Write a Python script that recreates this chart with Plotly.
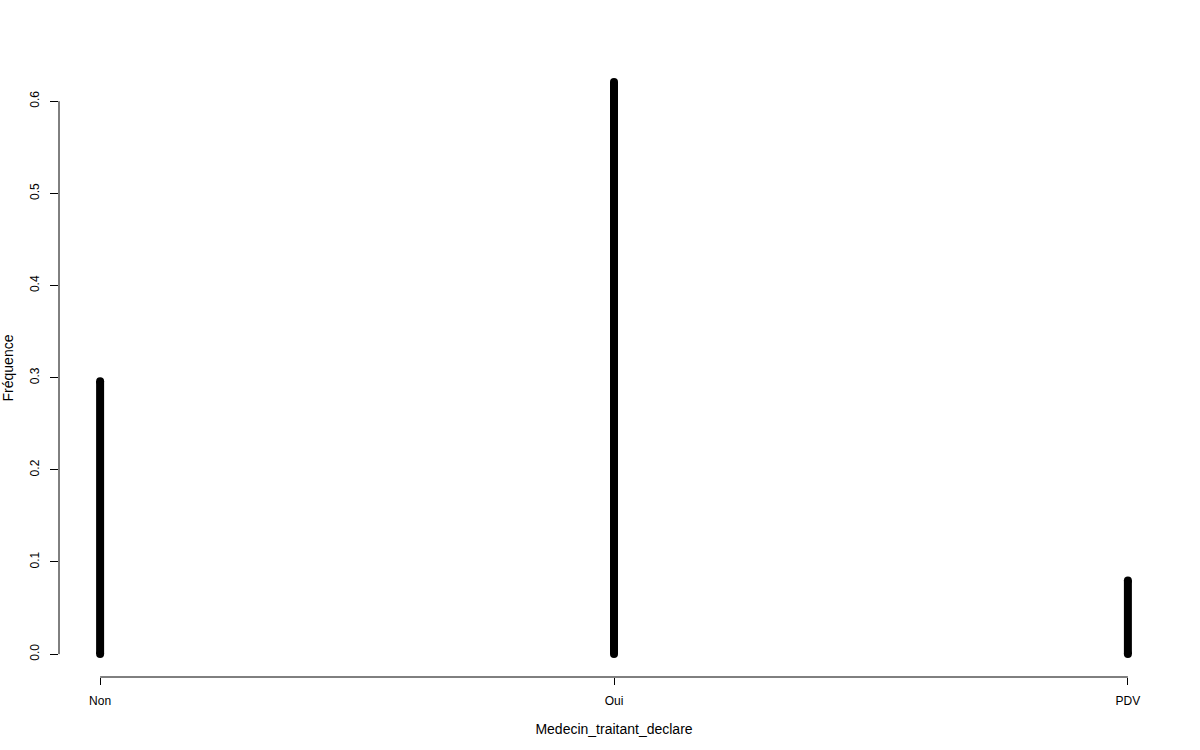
import plotly.graph_objects as go

categories = ["Non", "Oui", "PDV"]
frequencies = [0.296, 0.621, 0.080]
y_ticks = [0.0, 0.1, 0.2, 0.3, 0.4, 0.5, 0.6]

xs, ys = [], []
for i, v in enumerate(frequencies):
    xs += [i + 1, i + 1, None]
    ys += [0, v, None]

fig = go.Figure()
fig.add_trace(go.Scatter(
    x=xs, y=ys, mode="lines+markers",
    line=dict(color="black", width=8),
    marker=dict(color="black", size=8),
    hoverinfo="skip", showlegend=False,
))

n = len(categories)
xpad = 0.04 * (n - 1)
ymax = max(frequencies)
ypad = 0.04 * ymax

font = dict(family="Liberation Sans, Arial, sans-serif", size=12, color="black")

fig.update_layout(
    width=1200, height=750,
    margin=dict(l=59, r=31, t=59, b=73),
    paper_bgcolor="white", plot_bgcolor="white",
    font=font,
    xaxis=dict(
        range=[1 - xpad, n + xpad],
        tickmode="array", tickvals=list(range(1, n + 1)), ticktext=categories,
        ticks="outside", ticklen=7, tickwidth=1, tickcolor="black",
        tickfont=dict(size=12), ticklabelstandoff=6,
        showgrid=False, zeroline=False, showline=False,
        title=dict(text="Medecin_traitant_declare", standoff=16),
        automargin=False,
    ),
    yaxis=dict(
        range=[-ypad, ymax + ypad],
        tickmode="array", tickvals=y_ticks, ticktext=[f"{t:.1f}" for t in y_ticks],
        ticks="outside", ticklen=8, tickwidth=1, tickcolor="black",
        tickangle=-90, ticklabelstandoff=6, tickfont=dict(size=12),
        showgrid=False, zeroline=False, showline=False,
        title=dict(text="Fréquence", standoff=14),
        automargin=False,
    ),
)

# axis lines spanning first to last tick (R style)
fig.add_shape(type="line", xref="x", yref="paper", x0=1, x1=n, y0=0, y1=0,
              line=dict(color="black", width=1))
fig.add_shape(type="line", xref="paper", yref="y", x0=0, x1=0, y0=y_ticks[0], y1=y_ticks[-1],
              line=dict(color="black", width=1))

fig.write_html("out.html")
